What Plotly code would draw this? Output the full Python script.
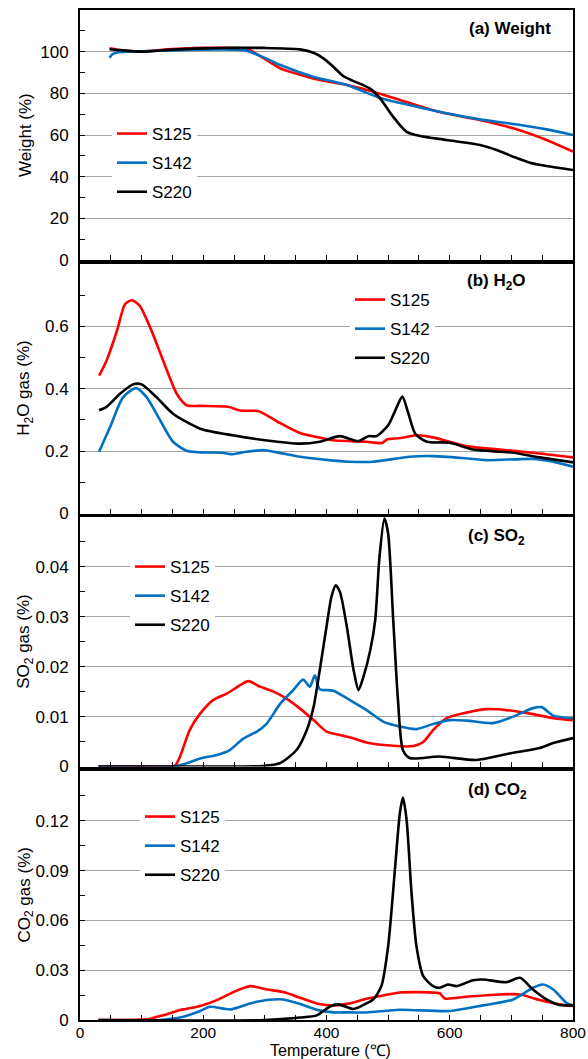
import plotly.graph_objects as go

# ---------------- data ----------------
series_names = ["S125", "S142", "S220"]
series_colors = ["#ff0000", "#0070c0", "#000000"]

# (a) Weight (%)
w_t_s125 = [48, 70, 100, 150, 200, 250, 270, 300, 325, 368, 395, 433, 476, 530, 584, 649, 703, 757, 800]
w_s125 = [101.6, 100.6, 100.1, 101.2, 101.8, 101.8, 101.5, 96.5, 92.0, 88.0, 86.0, 84.0, 80.8, 75.8, 71.0, 67.2, 63.2, 57.6, 52.0]
w_t_s142 = [48, 52, 60, 80, 100, 150, 200, 250, 270, 300, 325, 378, 433, 487, 541, 595, 649, 703, 757, 800]
w_s142 = [97.0, 98.6, 99.6, 100.0, 100.2, 100.6, 101.0, 101.0, 100.5, 97.0, 93.6, 88.0, 84.0, 77.8, 74.0, 70.4, 67.5, 65.3, 62.7, 60.0]
w_t_s220 = [48, 70, 100, 150, 200, 250, 300, 357, 379, 395, 411, 427, 443, 470, 487, 508, 530, 552, 595, 649, 676, 703, 730, 757, 800]
w_s220 = [101.2, 100.6, 100.0, 101.0, 101.6, 101.8, 101.8, 101.1, 99.5, 96.8, 92.8, 88.3, 86.0, 82.4, 77.6, 68.8, 61.5, 59.5, 57.6, 55.2, 52.8, 49.6, 46.7, 45.1, 43.2]

# (b) H2O gas (%)
h_t_s125 = [31, 43, 60, 73, 84, 97, 114, 135, 157, 173, 195, 240, 260, 290, 320, 357, 385, 411, 440, 465, 490, 498, 520, 546, 573, 627, 681, 735, 800]
h_s125 = [0.442, 0.49, 0.586, 0.671, 0.684, 0.666, 0.596, 0.49, 0.384, 0.347, 0.345, 0.342, 0.33, 0.328, 0.295, 0.258, 0.245, 0.235, 0.232, 0.23, 0.226, 0.237, 0.242, 0.251, 0.244, 0.216, 0.205, 0.195, 0.18]
h_t_s142 = [31, 49, 70, 91, 108, 130, 151, 173, 195, 230, 248, 270, 300, 330, 357, 400, 438, 476, 535, 573, 620, 660, 735, 768, 800]
h_s142 = [0.198, 0.278, 0.373, 0.402, 0.373, 0.299, 0.23, 0.201, 0.196, 0.195, 0.19, 0.198, 0.203, 0.192, 0.182, 0.172, 0.166, 0.166, 0.182, 0.184, 0.178, 0.171, 0.175, 0.166, 0.15]
h_t_s220 = [31, 43, 65, 86, 100, 124, 151, 195, 250, 300, 357, 389, 422, 451, 468, 481, 500, 514, 523, 533, 544, 563, 600, 638, 681, 703, 746, 800]
h_s220 = [0.331, 0.342, 0.384, 0.414, 0.414, 0.373, 0.32, 0.272, 0.25, 0.235, 0.224, 0.23, 0.248, 0.232, 0.248, 0.248, 0.283, 0.341, 0.375, 0.32, 0.256, 0.23, 0.227, 0.205, 0.198, 0.195, 0.18, 0.164]

# (c) SO2 gas (%)
s_t_s125 = [30, 100, 154, 162, 178, 195, 216, 238, 260, 273, 292, 314, 335, 357, 379, 400, 422, 444, 465, 492, 541, 557, 573, 595, 627, 660, 692, 735, 768, 800]
s_s125 = [0, 0, 0.0002, 0.0019, 0.0073, 0.0106, 0.0133, 0.0146, 0.0163, 0.0171, 0.016, 0.015, 0.0136, 0.0116, 0.0093, 0.007, 0.0063, 0.0056, 0.0048, 0.0043, 0.0041, 0.0049, 0.0073, 0.0097, 0.0108, 0.0115, 0.0113, 0.0105, 0.0097, 0.0093]
s_t_s142 = [30, 150, 170, 195, 222, 243, 265, 287, 303, 325, 346, 362, 373, 381, 389, 411, 438, 465, 492, 519, 546, 573, 600, 627, 670, 703, 735, 749, 768, 800]
s_s142 = [0, 0, 0.0005, 0.0016, 0.0023, 0.0033, 0.0056, 0.007, 0.0086, 0.0126, 0.0153, 0.0174, 0.016, 0.0183, 0.0155, 0.0152, 0.0133, 0.0113, 0.009, 0.008, 0.0075, 0.0085, 0.0093, 0.0092, 0.0087, 0.01, 0.0117, 0.0119, 0.0102, 0.0097]
s_t_s220 = [30, 250, 297, 325, 352, 368, 379, 389, 400, 408, 415, 422, 433, 444, 452, 460, 471, 479, 486, 494, 500, 508, 516, 524, 535, 584, 643, 697, 746, 768, 800]
s_s220 = [0, 0, 0.0001, 0.0007, 0.0034, 0.0073, 0.0119, 0.0193, 0.028, 0.034, 0.0363, 0.0349, 0.028, 0.0193, 0.0153, 0.018, 0.0233, 0.0293, 0.042, 0.0497, 0.0467, 0.030, 0.0133, 0.0033, 0.0017, 0.002, 0.0013, 0.0026, 0.0037, 0.0047, 0.0057]

# (d) CO2 gas (%)
c_t_s125 = [30, 100, 114, 130, 141, 162, 168, 195, 222, 249, 276, 303, 330, 357, 384, 411, 438, 465, 492, 519, 546, 578, 584, 592, 627, 681, 714, 746, 778, 800]
c_s125 = [0, 0.0003, 0.0008, 0.0024, 0.0034, 0.0060, 0.0064, 0.0084, 0.012, 0.0168, 0.0204, 0.0184, 0.0168, 0.0134, 0.01, 0.0088, 0.01, 0.0128, 0.0148, 0.0166, 0.0168, 0.0164, 0.016, 0.013, 0.014, 0.0154, 0.0154, 0.012, 0.0094, 0.0084]
c_t_s142 = [30, 130, 168, 195, 211, 244, 276, 303, 330, 357, 384, 411, 438, 465, 519, 600, 654, 703, 735, 751, 768, 789, 800]
c_s142 = [0, 0, 0.002, 0.0054, 0.008, 0.0064, 0.01, 0.012, 0.0124, 0.0097, 0.0062, 0.0046, 0.0046, 0.0045, 0.0062, 0.0054, 0.0088, 0.0124, 0.0194, 0.0214, 0.0184, 0.0104, 0.0088]
c_t_s220 = [30, 300, 357, 384, 405, 419, 444, 465, 476, 489, 500, 511, 519, 524, 530, 538, 546, 557, 573, 584, 597, 611, 638, 654, 692, 714, 735, 757, 778, 800]
c_s220 = [0, 0, 0.0015, 0.0028, 0.008, 0.0094, 0.0066, 0.01, 0.0124, 0.0204, 0.0444, 0.0904, 0.1244, 0.134, 0.1204, 0.0764, 0.0444, 0.0264, 0.0204, 0.0194, 0.0214, 0.0204, 0.024, 0.0244, 0.0228, 0.0254, 0.0184, 0.0124, 0.009, 0.0088]

panel_labels = ["(a) Weight", "(b) H<sub>2</sub>O", "(c) SO<sub>2</sub>", "(d) CO<sub>2</sub>"]
y_titles = ["Weight (%)", "H<sub>2</sub>O gas (%)", "SO<sub>2</sub> gas (%)", "CO<sub>2</sub> gas (%)"]
y_ranges = [[0, 120], [0, 0.8], [0, 0.05], [0, 0.15]]
y_dticks = [20, 0.2, 0.01, 0.03]
y_ticklabels = [
    ["0", "20", "40", "60", "80", "100"],
    ["0", "0.2", "0.4", "0.6"],
    ["0", "0.01", "0.02", "0.03", "0.04"],
    ["0", "0.03", "0.06", "0.09", "0.12"],
]
x_ticks = [0, 200, 400, 600, 800]
x_title = "Temperature (\u2103)"

panels = [
    [(w_t_s125, w_s125), (w_t_s142, w_s142), (w_t_s220, w_s220)],
    [(h_t_s125, h_s125), (h_t_s142, h_s142), (h_t_s220, h_s220)],
    [(s_t_s125, s_s125), (s_t_s142, s_s142), (s_t_s220, s_s220)],
    [(c_t_s125, c_s125), (c_t_s142, c_s142), (c_t_s220, c_s220)],
]

# ---------------- layout geometry ----------------
W, H = 588, 1059
ML, MR, MT, MB = 80, 15, 10, 39
PH = H - MT - MB


def fy(p):
    return (H - MB - p) / PH


def fx(p):
    return (p - ML) / (W - ML - MR)


domains = [
    [fy(260), fy(10)],
    [fy(513.5), fy(264)],
    [fy(766.5), fy(517)],
    [fy(1020), fy(771)],
]
legend_pos = [(112, 116), (350, 282), (130, 549), (140, 799)]
label_pos = [(553, 28), (528, 282), (527, 537), (529, 791)]

FONT = "Liberation Sans, Arial, Helvetica, sans-serif"
fig = go.Figure()
annotations = []
layout = dict(
    width=W, height=H,
    margin=dict(l=ML, r=MR, t=MT, b=MB),
    paper_bgcolor="white", plot_bgcolor="white",
    font=dict(family=FONT, size=17, color="black"),
    showlegend=True,
)

for i in range(4):
    n = i + 1
    xa = "x" if n == 1 else f"x{n}"
    ya = "y" if n == 1 else f"y{n}"
    lg = "legend" if n == 1 else f"legend{n}"
    for j, (tt, vv) in enumerate(panels[i]):
        fig.add_trace(go.Scatter(
            x=tt, y=vv, mode="lines", name=series_names[j],
            line=dict(color=series_colors[j], width=2.6, shape="spline", smoothing=0.7),
            xaxis=xa, yaxis=ya, legend=lg, legendgroup=f"{i}-{j}",
        ))
    xkey = "xaxis" if n == 1 else f"xaxis{n}"
    ykey = "yaxis" if n == 1 else f"yaxis{n}"
    yr = y_ranges[i]
    dt = y_dticks[i]
    tv = [k * dt for k in range(len(y_ticklabels[i]))]
    layout[xkey] = dict(
        domain=[0, 1], anchor=ya, range=[0, 800],
        tickmode="array", tickvals=x_ticks, ticktext=[str(v) for v in x_ticks],
        showticklabels=(n == 4), ticks="inside", ticklen=5, tickwidth=1, tickcolor="black",
        minor=dict(dtick=50, ticks="inside", ticklen=5, tickwidth=1, tickcolor="black", showgrid=False),
        showline=True, linecolor="black", linewidth=2, mirror=True,
        showgrid=False, zeroline=False, fixedrange=True, automargin=False,
        ticklabelstandoff=-3, tickfont=dict(size=15.5, family=FONT),
        **({"matches": "x"} if n > 1 else {}),
    )
    layout[ykey] = dict(
        domain=domains[i], anchor=xa, range=yr,
        tickmode="array", tickvals=tv, ticktext=y_ticklabels[i],
        ticks="inside", ticklen=5, tickwidth=1, tickcolor="black",
        minor=dict(tickmode="array", tickvals=[v + dt / 2 for v in tv], ticks="inside", ticklen=5,
                   tickwidth=1, tickcolor="black", showgrid=False),
        showline=True, linecolor="black", linewidth=2, mirror=True,
        showgrid=True, gridcolor="#a6a6a6", gridwidth=1.4, zeroline=False,
        ticklabelstandoff=6, automargin=False,
    )
    lx, ly = legend_pos[i]
    layout[lg] = dict(
        x=fx(lx), y=fy(ly), xanchor="left", yanchor="top",
        bgcolor="white", borderwidth=0, font=dict(size=17, family=FONT),
        traceorder="grouped", tracegroupgap=4, itemwidth=30,
    )
    px, py = label_pos[i]
    annotations.append(dict(
        text=f"<b>{panel_labels[i]}</b>", xref="paper", yref="paper",
        x=fx(px), y=fy(py), xanchor="right", yanchor="middle",
        showarrow=False, font=dict(size=17, family=FONT),
    ))
    annotations.append(dict(
        text=y_titles[i], xref="paper", yref="paper",
        x=fx(25), y=(domains[i][0] + domains[i][1]) / 2, xanchor="center", yanchor="middle",
        textangle=-90, showarrow=False, font=dict(size=17, family=FONT),
    ))

annotations.append(dict(
    text=x_title, xref="paper", yref="paper", x=fx(330), y=fy(1061),
    xanchor="center", yanchor="bottom", showarrow=False, font=dict(size=16, family=FONT),
))
layout["annotations"] = annotations
fig.update_layout(**layout)
fig.write_html(
    "out.html",
    config={"displayModeBar": False},
    post_script="document.body.style.margin='0px';document.body.style.overflow='hidden';",
)
